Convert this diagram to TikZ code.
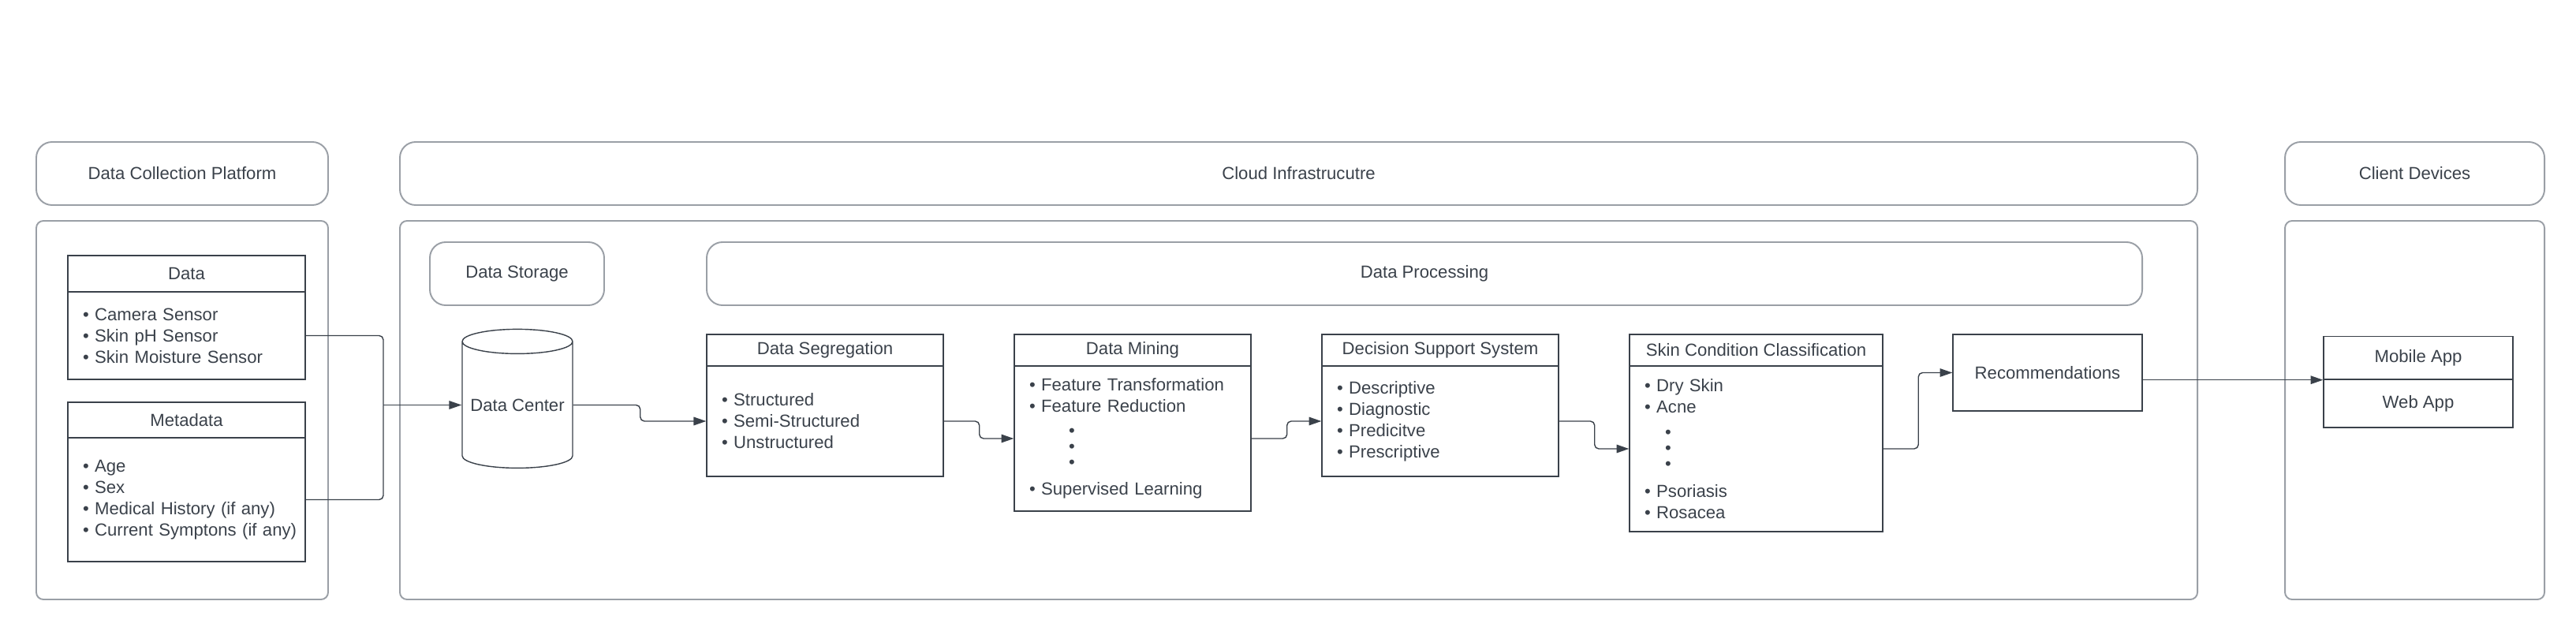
\documentclass[tikz,border=0pt]{standalone}
\usepackage{fontspec}
\setmainfont{Liberation Sans}
\usetikzlibrary{shapes.geometric,arrows.meta}
\definecolor{ink}{HTML}{3A414A}
\definecolor{frame}{HTML}{9A9FA6}

\begin{document}
\begin{tikzpicture}[x=1cm,y=-1cm,
        font=\fontsize{6.3}{7.7}\selectfont, text=ink,
        head/.style={draw=frame,line width=0.55pt,rounded corners=0.2cm,inner sep=0pt},
        panel/.style={draw=frame,line width=0.55pt,rounded corners=0.09cm,inner sep=0pt},
        titlebox/.style={draw=ink,line width=0.4pt,inner sep=0pt},
        listbox/.style={draw=ink,line width=0.4pt,align=left,inner xsep=0.19cm,inner ysep=0pt},
        link/.style={draw=ink,line width=0.4pt,rounded corners=1.5pt},
        arrow/.style={link,-{Triangle[length=4.5pt,width=3pt]}}]

    \useasboundingbox (0,0) rectangle (32.66,8.00);

    % Column headers
    \node[head,minimum width=3.70cm,minimum height=0.80cm] (dcphead) at (2.31,2.20) {Data Collection Platform};
    \node[head,minimum width=22.79cm,minimum height=0.80cm] (cloudhead) at (16.465,2.20) {Cloud Infrastrucutre};
    \node[head,minimum width=3.29cm,minimum height=0.80cm] (clienthead) at (30.615,2.20) {Client Devices};

    % Column panels
    \node[panel,minimum width=3.70cm,minimum height=4.80cm] (dcp) at (2.31,5.20) {};
    \node[panel,minimum width=22.79cm,minimum height=4.80cm] (cloud) at (16.465,5.20) {};
    \node[panel,minimum width=3.29cm,minimum height=4.80cm] (client) at (30.615,5.20) {};

    % Data collection platform
    \node[titlebox,minimum width=3.01cm,minimum height=0.46cm] (data) at (2.365,3.47) {Data};
    \node[listbox,text width=2.63cm,minimum height=1.11cm] (databody) at (2.365,4.255)
        {• Camera Sensor\\ • Skin pH Sensor\\ • Skin Moisture Sensor\\[2pt]};
    \node[titlebox,minimum width=3.01cm,minimum height=0.45cm] (meta) at (2.365,5.325) {Metadata};
    \node[listbox,text width=2.63cm,minimum height=1.57cm] (metabody) at (2.365,6.335)
        {• Age\\ • Sex\\ • Medical History (if any)\\ \mbox{• Current Symptons (if any)}};

    % Cloud infrastructure
    \node[head,minimum width=2.21cm,minimum height=0.80cm] (storage) at (6.555,3.47) {Data Storage};
    \node[head,minimum width=18.20cm,minimum height=0.80cm] (processing) at (18.06,3.47) {Data Processing};
    \node[cylinder,shape border rotate=90,aspect=0.26,draw=ink,line width=0.4pt,
        minimum width=1.40cm,minimum height=1.76cm,inner sep=0pt] (dc) at (6.56,5.135) {Data Center};

    \node[titlebox,minimum width=3.00cm,minimum height=0.40cm] (seg) at (10.46,4.44) {Data Segregation};
    \node[listbox,text width=2.62cm,minimum height=1.40cm] (segbody) at (10.46,5.34)
        {• Structured\\ • Semi-Structured\\ • Unstructured};

    \node[titlebox,minimum width=3.00cm,minimum height=0.40cm] (mining) at (14.36,4.44) {Data Mining};
    \node[listbox,text width=2.62cm,minimum height=1.84cm] (miningbody) at (14.36,5.56)
        {• Feature Transformation\\ • Feature Reduction\\[1.1pt]
         \hspace*{0.5cm}•\\[-2pt] \hspace*{0.5cm}•\\[-2pt] \hspace*{0.5cm}•\\[2pt]
         • Supervised Learning};

    \node[titlebox,minimum width=3.00cm,minimum height=0.40cm] (dss) at (18.26,4.44) {Decision Support System};
    \node[listbox,text width=2.62cm,minimum height=1.40cm] (dssbody) at (18.26,5.34)
        {• Descriptive\\ • Diagnostic\\ • Predicitve\\ • Prescriptive};

    \node[titlebox,minimum width=3.21cm,minimum height=0.40cm] (scc) at (22.265,4.44) {Skin Condition Classification};
    \node[listbox,text width=2.83cm,minimum height=2.10cm] (sccbody) at (22.265,5.69)
        {• Dry Skin\\ • Acne\\[1.4pt]
         \hspace*{0.26cm}•\\[-2pt] \hspace*{0.26cm}•\\[-2pt] \hspace*{0.26cm}•\\[2.3pt]
         • Psoriasis\\ • Rosacea};

    \node[titlebox,minimum width=2.40cm,minimum height=0.97cm] (rec) at (25.96,4.725) {Recommendations};

    % Client devices
    \node[titlebox,minimum width=2.40cm,minimum height=0.545cm] (mobile) at (30.66,4.5375) {Mobile App};
    \node[titlebox,minimum width=2.40cm,minimum height=0.61cm] (web) at (30.66,5.115) {Web App};

    % Connectors
    \coordinate (merge) at (4.86,5.135);
    \draw[link] (databody.east) -| (merge);
    \draw[link] (metabody.east) -| (merge);
    \draw[arrow] (merge) -- (merge -| dc.west);

    \draw[arrow] (dc.east) -- ++(0.85,0) |- (segbody.west);
    \draw[arrow] (segbody.east) -- ++(0.45,0) |- (miningbody.west);
    \draw[arrow] (miningbody.east) -- ++(0.45,0) |- (dssbody.west);
    \draw[arrow] (dssbody.east) -- ++(0.45,0) |- (sccbody.west);
    \draw[arrow] (sccbody.east) -- ++(0.445,0) |- (rec.west);
    \draw[arrow] (rec.east |- mobile.south) -- (mobile.south west);

\end{tikzpicture}
\end{document}
